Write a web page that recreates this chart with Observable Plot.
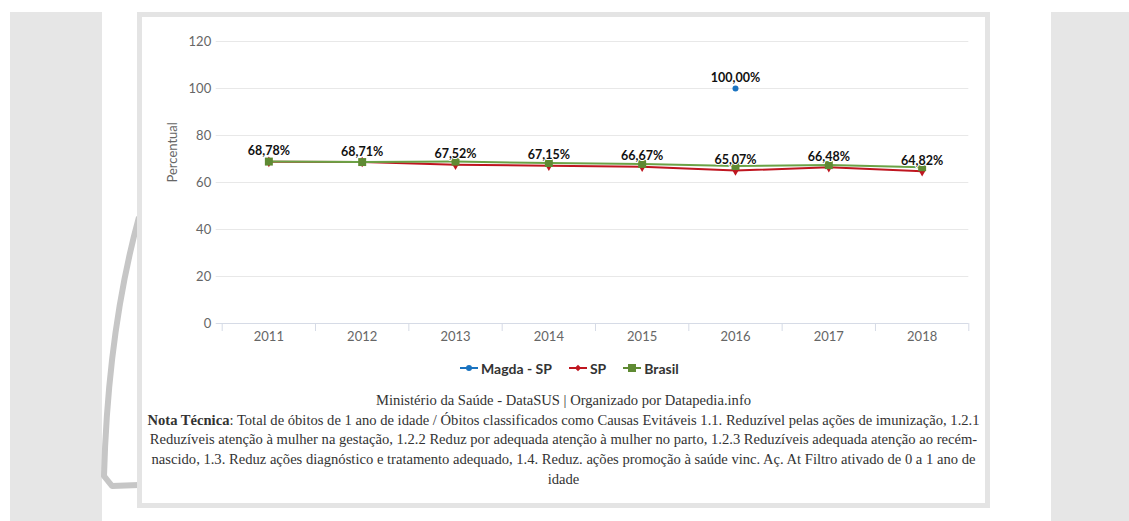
<!DOCTYPE html>
<html><head><meta charset="utf-8">
<script src="https://cdn.jsdelivr.net/npm/d3@7"></script>
<script src="https://cdn.jsdelivr.net/npm/@observablehq/plot@0.6"></script>
<style>
html,body{margin:0;padding:0;background:#fff;width:1129px;height:521px;overflow:hidden;}
.panel{position:absolute;background:#e6e6e6;}
#deco{position:absolute;left:0;top:0;}
#card{position:absolute;left:137px;top:12px;width:843px;height:486px;border:5px solid #e4e4e4;background:#fff;}
#chart{position:absolute;left:0;top:0;}
#legend{position:absolute;left:318px;top:341px;height:20px;display:flex;align-items:center;font-family:Lato,sans-serif;font-weight:bold;font-size:14px;color:#333;white-space:nowrap;}
#legend .item{display:flex;align-items:center;margin-right:17px;}
#legend svg{margin-right:3px;}
#caption{position:absolute;left:0;top:374px;width:843px;text-align:center;font-family:"Liberation Serif",serif;font-size:14.6px;line-height:19.7px;color:#333;}
#caption div{white-space:nowrap;}
</style>
</head><body>
<div class="panel" style="left:10px;top:12px;width:92px;height:509px;"></div>
<div class="panel" style="left:1051px;top:12px;width:78px;height:509px;"></div>
<svg id="deco" width="1129" height="521"><path d="M139,217 Q108,330 104,476 L112,486 L139,485" fill="none" stroke="#c6c6c6" stroke-width="6" stroke-linejoin="round"/></svg>
<div id="card">
  <div id="chart"></div>
  <div id="legend"></div>
  <div id="caption"></div>
</div>
<script>
// ---- data ----
const years = [2011, 2012, 2013, 2014, 2015, 2016, 2017, 2018];
const spValues = [68.78, 68.71, 67.52, 67.15, 66.67, 65.07, 66.48, 64.82];
const brasilValues = [68.9, 68.7, 68.9, 68.3, 67.9, 67.0, 67.4, 66.5];
const magdaYears = [2016];
const magdaValues = [100.00];
const yTicks = [0, 20, 40, 60, 80, 100, 120];
const seriesNames = ["Magda - SP", "SP", "Brasil"];
const seriesColors = ["#1a73c0", "#bf1620", "#5f8a33"];
const captionSource = "Ministério da Saúde - DataSUS | Organizado por Datapedia.info";
const captionNote = [
  "Total de óbitos de 1 ano de idade / Óbitos classificados como Causas Evitáveis 1.1. Reduzível pelas ações de imunização, 1.2.1",
  "Reduzíveis atenção à mulher na gestação, 1.2.2 Reduz por adequada atenção à mulher no parto, 1.2.3 Reduzíveis adequada atenção ao recém-",
  "nascido, 1.3. Reduz ações diagnóstico e tratamento adequado, 1.4. Reduz. ações promoção à saúde vinc. Aç. At Filtro ativado de 0 a 1 ano de",
  "idade"
];

const sp = years.map((y, i) => ({year: y, value: spValues[i]}));
const brasil = years.map((y, i) => ({year: y, value: brasilValues[i]}));
const magda = magdaYears.map((y, i) => ({year: y, value: magdaValues[i]}));
const boundaries = years.map(y => y - 0.5).concat([years[years.length - 1] + 0.5]);
const fmt = v => d3.format(".2f")(v).replace(".", ",") + "%";

const chart = Plot.plot({
  width: 843, height: 340,
  marginLeft: 79.7, marginRight: 16.7, marginTop: 24, marginBottom: 34,
  style: {fontFamily: "Lato, sans-serif", fontSize: "13px", color: "#666", background: "transparent", overflow: "visible"},
  x: {type: "linear", domain: [boundaries[0], boundaries[boundaries.length - 1]]},
  y: {domain: [0, 120]},
  marks: [
    Plot.ruleY(yTicks.slice(1), {stroke: "#e8e8e8", insetLeft: -6}),
    Plot.ruleY([0], {stroke: "#d6dbe6", insetLeft: -6}),
    Plot.axisY({ticks: yTicks, tickSize: 0, tickPadding: 11, label: null, fill: "#666"}),
    Plot.axisX({ticks: years, tickSize: 0, tickPadding: 8, tickFormat: d => String(d), label: null, fill: "#666"}),
    Plot.axisX({ticks: boundaries, tickSize: 8, tickFormat: () => "", label: null, stroke: "#d6dbe6"}),
    Plot.line(sp, {x: "year", y: "value", stroke: seriesColors[1], strokeWidth: 2}),
    Plot.line(brasil, {x: "year", y: "value", stroke: "#6aa346", strokeWidth: 2}),
    Plot.dot(sp, {x: "year", y: "value", symbol: "diamond", r: 3.2, fill: seriesColors[1]}),
    Plot.dot(brasil, {x: "year", y: "value", symbol: "square", r: 4.5, fill: seriesColors[2]}),
    Plot.dot(magda, {x: "year", y: "value", r: 3, fill: seriesColors[0]}),
    Plot.text(sp, {x: "year", y: "value", text: d => fmt(d.value), dy: -10.5, fontWeight: "bold", fontSize: 12.5, fill: "#111", stroke: "white", strokeWidth: 2}),
    Plot.text(magda, {x: "year", y: "value", text: d => fmt(d.value), dy: -10.5, fontWeight: "bold", fontSize: 12.5, fill: "#111", stroke: "white", strokeWidth: 2}),
    Plot.text(["Percentual"], {frameAnchor: "left", dx: -49.7, rotate: -90, fill: "#666", fontSize: 13})
  ]
});
document.getElementById("chart").appendChild(chart);

// legend
const symbolsSvg = [
  c => `<circle cx="9" cy="5" r="3" fill="${c}"/>`,
  c => `<path d="M9,1.8 L12.2,5 L9,8.2 L5.8,5 Z" fill="${c}"/>`,
  c => `<rect x="5" y="1" width="8" height="8" fill="${c}"/>`
];
const legend = document.getElementById("legend");
seriesNames.forEach((name, i) => {
  const item = document.createElement("div");
  item.className = "item";
  item.innerHTML = `<svg width="18" height="10"><line x1="0" x2="18" y1="5" y2="5" stroke="${seriesColors[i]}" stroke-width="2"/>${symbolsSvg[i](seriesColors[i])}</svg><span>${name}</span>`;
  legend.appendChild(item);
});

// caption
const cap = document.getElementById("caption");
const l0 = document.createElement("div"); l0.textContent = captionSource; cap.appendChild(l0);
captionNote.forEach((t, i) => {
  const d = document.createElement("div");
  if (i === 0) { d.innerHTML = "<b>Nota Técnica</b>: "; d.appendChild(document.createTextNode(t)); }
  else d.textContent = t;
  cap.appendChild(d);
});
</script>
</body></html>
